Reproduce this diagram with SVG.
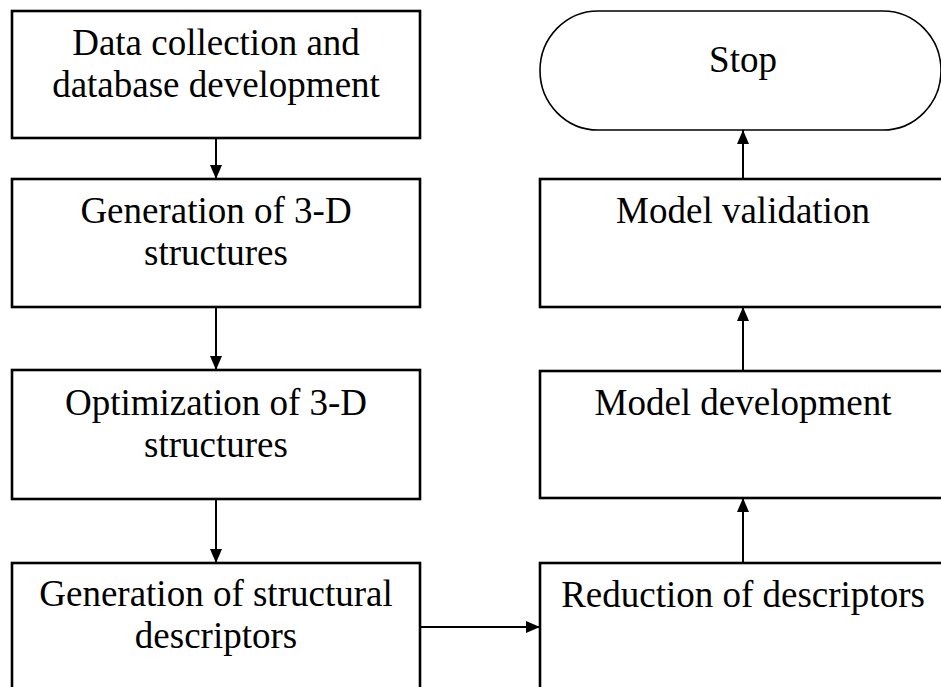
<svg xmlns="http://www.w3.org/2000/svg" width="941" height="687" viewBox="0 0 941 687">
  <style>
    .box { fill: #ffffff; stroke: #000000; stroke-width: 2.6; }
    .term { fill: #ffffff; stroke: #000000; stroke-width: 1.6; }
    .lbl { font-family: "Liberation Serif", "Times New Roman", serif; font-size: 37px; fill: #000000; text-anchor: middle; }
    .conn { stroke: #000000; stroke-width: 2; fill: none; marker-end: url(#arrow); }
  </style>
  <defs>
    <marker id="arrow" markerUnits="userSpaceOnUse" markerWidth="14" markerHeight="12" refX="14" refY="6" orient="auto">
      <path d="M0,0 L14,6 L0,12 Z" fill="#000000"/>
    </marker>
  </defs>
  <rect width="941" height="687" fill="#ffffff"/>

  <g id="connectors">
    <line class="conn" x1="216" y1="138" x2="216" y2="179"/>
    <line class="conn" x1="216" y1="307" x2="216" y2="370"/>
    <line class="conn" x1="216" y1="499" x2="216" y2="563"/>
    <line class="conn" x1="420" y1="627" x2="540" y2="627"/>
    <line class="conn" x1="743" y1="563" x2="743" y2="498"/>
    <line class="conn" x1="743" y1="371" x2="743" y2="307"/>
    <line class="conn" x1="743" y1="179" x2="743" y2="130"/>
  </g>

  <g id="data-collection">
    <rect class="box" x="12" y="11" width="408" height="127"/>
    <text class="lbl" x="216" y="55">Data collection and</text>
    <text class="lbl" x="216" y="97">database development</text>
  </g>

  <g id="generation-3d">
    <rect class="box" x="12" y="179" width="408" height="128"/>
    <text class="lbl" x="216" y="223">Generation of 3-D</text>
    <text class="lbl" x="216" y="265">structures</text>
  </g>

  <g id="optimization-3d">
    <rect class="box" x="12" y="370" width="408" height="129"/>
    <text class="lbl" x="216" y="415">Optimization of 3-D</text>
    <text class="lbl" x="216" y="457">structures</text>
  </g>

  <g id="generation-descriptors">
    <rect class="box" x="12" y="563" width="408" height="140"/>
    <text class="lbl" x="216" y="606">Generation of structural</text>
    <text class="lbl" x="216" y="648">descriptors</text>
  </g>

  <g id="reduction">
    <rect class="box" x="540" y="563" width="408" height="140"/>
    <text class="lbl" x="743" y="607">Reduction of descriptors</text>
  </g>

  <g id="model-development">
    <rect class="box" x="540" y="371" width="408" height="127"/>
    <text class="lbl" x="743" y="415">Model development</text>
  </g>

  <g id="model-validation">
    <rect class="box" x="540" y="179" width="408" height="128"/>
    <text class="lbl" x="743" y="223">Model validation</text>
  </g>

  <g id="stop">
    <rect class="term" x="540" y="11" width="401" height="119" rx="58" ry="59.5"/>
    <text class="lbl" x="743" y="72">Stop</text>
  </g>
</svg>
